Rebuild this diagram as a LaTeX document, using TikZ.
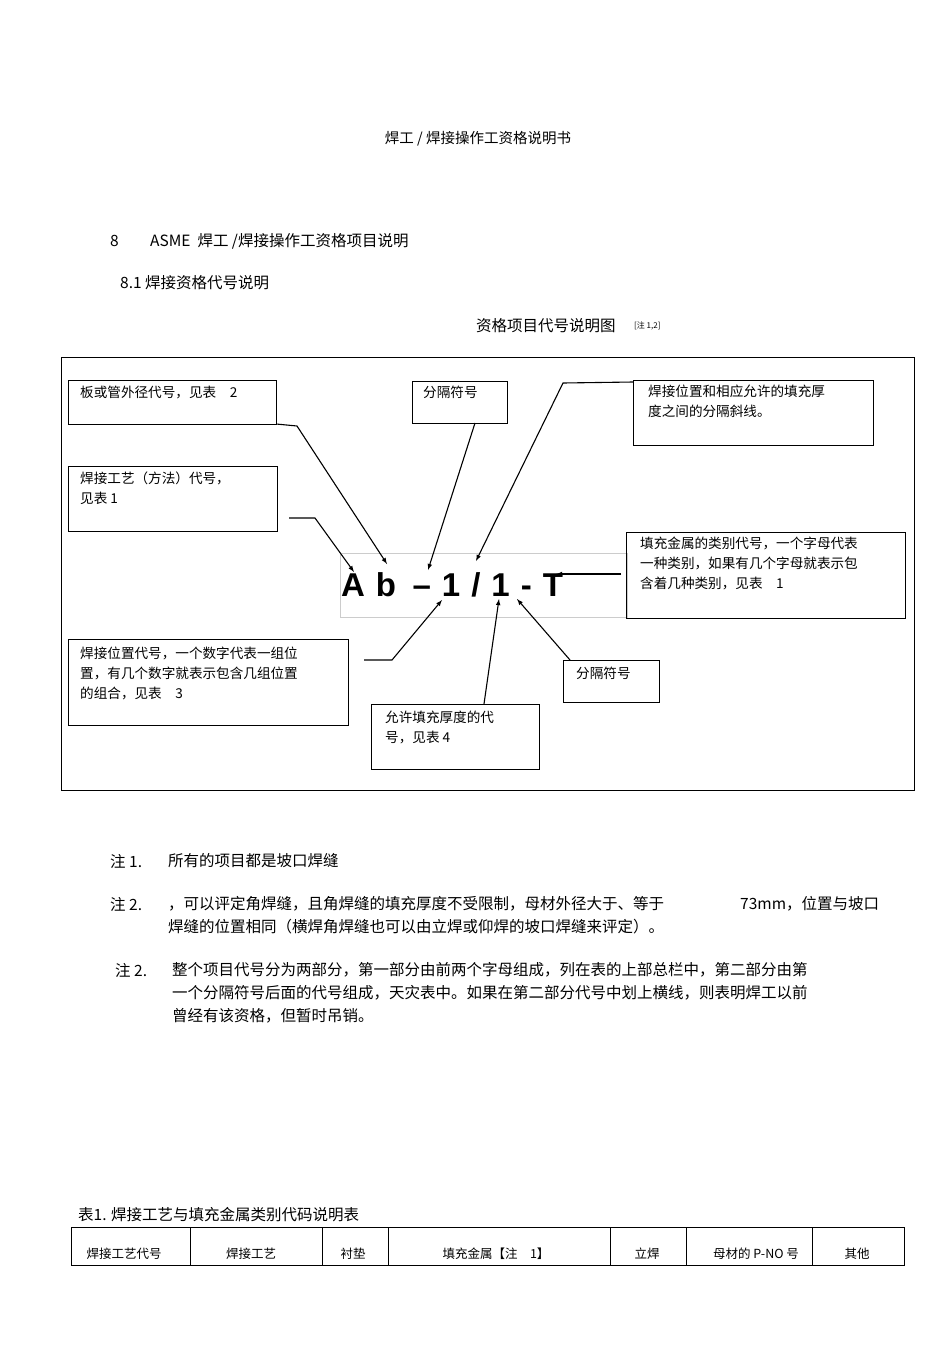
\documentclass[tikz,border=0pt]{standalone}
\usepackage{fontspec}
\setmainfont{Liberation Sans}
\newfontfamily\cjk{Noto Sans CJK SC}
\begin{document}
\begin{tikzpicture}[x=1pt,y=-1pt,
  txt/.style={anchor=west,inner sep=0pt,font=\cjk\fontsize{15.5}{17}\selectfont},
  btxt/.style={anchor=north west,inner sep=0pt,font=\cjk\fontsize{13.6}{20}\selectfont,align=left},
  bx/.style={draw,line width=0.9pt},
  arr/.style={-latex,line width=1.1pt}]
\useasboundingbox (0,0) rectangle (950,1346);
\node[txt,anchor=center,font=\cjk\fontsize{14.5}{17}\selectfont] (title) at (478,139) {焊工 / 焊接操作工资格说明书};
\node[txt] (h8) at (110,241) {8};
\node[txt] (h8t) at (150,241) {ASME\ \ 焊工 /焊接操作工资格项目说明};
\node[txt] (h81) at (120,283) {8.1 焊接资格代号说明};
\node[txt] (cap) at (476,326) {资格项目代号说明图};
\node[txt,font=\cjk\fontsize{8}{9}\selectfont] (capn) at (634,326) {[注 1,2]};
\draw[line width=0.8pt] (61,357) rectangle (914,790);
\draw[gray!40,line width=0.6pt] (340,553) rectangle (627,617);
\node[inner sep=0pt,font=\bfseries\fontsize{33}{34}\selectfont] (code) at (452,585) {A\,\,b\,\,\,–\,\,1\,\,/\,\,1\,\,-\,\,T};
\draw[bx] (68,380) rectangle (276,424); \node[btxt] (b1) at (80,386) {板或管外径代号，见表\quad 2};
\draw[bx] (68,466) rectangle (277,531); \node[btxt] (b2) at (80,472) {焊接工艺（方法）代号，\\见表 1};
\draw[bx] (412,381) rectangle (507,423); \node[btxt] (b3) at (423,386) {分隔符号};
\draw[bx] (633,380) rectangle (873,445); \node[btxt] (b4) at (648,385) {焊接位置和相应允许的填充厚\\度之间的分隔斜线。};
\draw[bx] (626,532) rectangle (905,618); \node[btxt] (b5) at (640,537) {填充金属的类别代号，一个字母代表\\一种类别，如果有几个字母就表示包\\含着几种类别，见表\quad 1};
\draw[bx] (68,639) rectangle (348,725); \node[btxt] (b6) at (80,647) {焊接位置代号，一个数字代表一组位\\置，有几个数字就表示包含几组位置\\的组合，见表\quad 3};
\draw[bx] (371,704) rectangle (539,769); \node[btxt] (b7) at (385,711) {允许填充厚度的代\\号，见表 4};
\draw[bx] (563,660) rectangle (659,702); \node[btxt] (b8) at (576,667) {分隔符号};
\draw[arr] (276,424) -- (297,426) -- (387,564);
\draw[arr] (475,423) -- (428,570);
\draw[arr] (633,382) -- (563,383) -- (476,561);
\draw[arr] (289,518) -- (315,518) -- (354,572);
\draw[arr] (621,574) -- (556,574);
\draw[arr] (364,660) -- (392,660) -- (442,600);
\draw[arr] (484,704) -- (499,599);
\draw[arr] (570,660) -- (517,599);
\node[txt] (n1) at (110,861) {注 1.};
\node[txt] (n1t) at (168,861) {所有的项目都是坡口焊缝};
\node[txt] (n2) at (110,904) {注 2.};
\node[txt] (n2t) at (168,904) {，可以评定角焊缝，且角焊缝的填充厚度不受限制，母材外径大于、等于};
\node[txt] (n2m) at (740,904) {73mm，位置与坡口};
\node[txt] (n2u) at (168,927) {焊缝的位置相同（横焊角焊缝也可以由立焊或仰焊的坡口焊缝来评定）。};
\node[txt] (n3) at (115,970) {注 2.};
\node[txt] (n3a) at (172,970) {整个项目代号分为两部分，第一部分由前两个字母组成，列在表的上部总栏中，第二部分由第};
\node[txt] (n3b) at (172,993) {一个分隔符号后面的代号组成，天灾表中。如果在第二部分代号中划上横线，则表明焊工以前};
\node[txt] (n3c) at (172,1016) {曾经有该资格，但暂时吊销。};
\node[txt] (t1) at (78,1215) {表1. 焊接工艺与填充金属类别代码说明表};
\draw[line width=0.8pt] (71,1227) rectangle (904,1265);
\foreach \x in {190,322,388,610,686,812} \draw[line width=0.8pt] (\x,1227) -- (\x,1265);
\foreach \t/\x in {焊接工艺代号/124,焊接工艺/251,衬垫/353,填充金属【注\quad 1】/496,立焊/647,母材的 P-NO 号/756,其他/857}
  \node[inner sep=0pt,font=\cjk\fontsize{12.5}{14}\selectfont] at (\x,1254) {\t};
\end{tikzpicture}
\end{document}
